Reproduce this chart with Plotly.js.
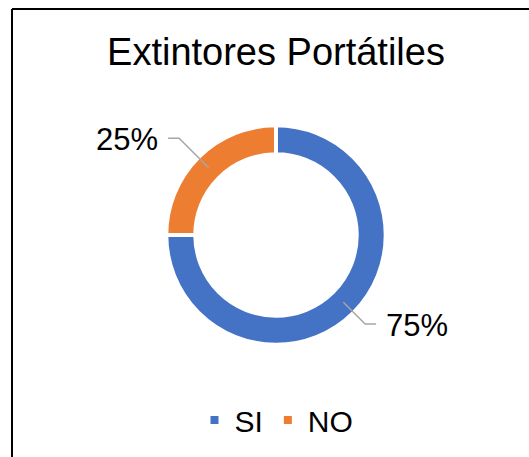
<!DOCTYPE html>
<html>
<head>
<meta charset="utf-8">
<script src="https://cdn.plot.ly/plotly-3.0.1.min.js"></script>
<style>
  html, body { margin: 0; padding: 0; background: #fff; }
  #chart { width: 529px; height: 457px; }
</style>
</head>
<body>
<div id="chart"></div>
<script>
// ---- data ----
const chartTitle = "Extintores Portátiles";
const categories = ["SI", "NO"];
const values = [75, 25];
const colors = ["#4472C4", "#ED7D31"];

// ---- layout constants (pixels) ----
const W = 529, H = 457;
const cx = 276, cy = 235;          // donut centre
const rOuter = 109.7, hole = 0.736;
const rMid = rOuter * (1 + hole) / 2;
const leaderLen = [126, 137];       // distance from centre to elbow, per slice
const horiz = 11, textGap = 8;
const FONT = "Liberation Sans, Arial, sans-serif";

const px = x => x / W;
const py = y => 1 - y / H;

const total = values.reduce((a, b) => a + b, 0);
const shapes = [];
const annotations = [];

// border (left + top only, as in the reference)
shapes.push({type: "line", xref: "paper", yref: "paper",
  x0: px(12), y0: py(H + 2), x1: px(12), y1: py(9),
  line: {color: "#000", width: 2}});
shapes.push({type: "line", xref: "paper", yref: "paper",
  x0: px(12), y0: py(9), x1: px(W + 2), y1: py(9),
  line: {color: "#000", width: 2}});

// leader lines + percentage labels derived from the data
let cum = 0;
values.forEach((v, i) => {
  const midFrac = (cum + v / 2) / total;
  cum += v;
  // clockwise from 12 o'clock
  const ang = midFrac * 2 * Math.PI;
  const dx = Math.sin(ang), dy = -Math.cos(ang);
  const sx = cx + rMid * dx, sy = cy + rMid * dy;
  const ex = cx + leaderLen[i] * dx, ey = cy + leaderLen[i] * dy;
  const side = dx >= 0 ? 1 : -1;
  const hx = ex + side * horiz;
  shapes.push({type: "path", xref: "paper", yref: "paper",
    path: `M${px(sx)},${py(sy)} L${px(ex)},${py(ey)} L${px(hx)},${py(ey)}`,
    line: {color: "#A6A6A6", width: 1.5}});
  const pct = Math.round(v / total * 100) + "%";
  annotations.push({xref: "paper", yref: "paper",
    x: px(hx + side * textGap), y: py(ey + 1),
    xanchor: side > 0 ? "left" : "right", yanchor: "middle",
    text: pct, showarrow: false,
    font: {family: FONT, size: 31, color: "#000"}});
});

const trace = {
  type: "pie",
  labels: categories,
  values: values,
  hole: hole,
  sort: false,
  direction: "clockwise",
  rotation: 0,
  textinfo: "none",
  hoverinfo: "label+percent",
  marker: {colors: colors, line: {color: "#fff", width: 4}},
  domain: {
    x: [px(cx - rOuter), px(cx + rOuter)],
    y: [py(cy + rOuter), py(cy - rOuter)]
  }
};

const layout = {
  width: W, height: H,
  margin: {l: 0, r: 0, t: 0, b: 0},
  paper_bgcolor: "#fff",
  title: {text: chartTitle, x: px(276), xanchor: "center",
          y: py(52), yanchor: "middle", xref: "paper", yref: "paper",
          font: {family: FONT, size: 38, color: "#000"}},
  showlegend: true,
  legend: {orientation: "h", x: px(276.5), xanchor: "center",
           y: py(420), yanchor: "middle",
           font: {family: FONT, size: 30, color: "#000"},
           itemwidth: 30},
  shapes: shapes,
  annotations: annotations
};

Plotly.newPlot("chart", [trace], layout, {staticPlot: true});
</script>
</body>
</html>
